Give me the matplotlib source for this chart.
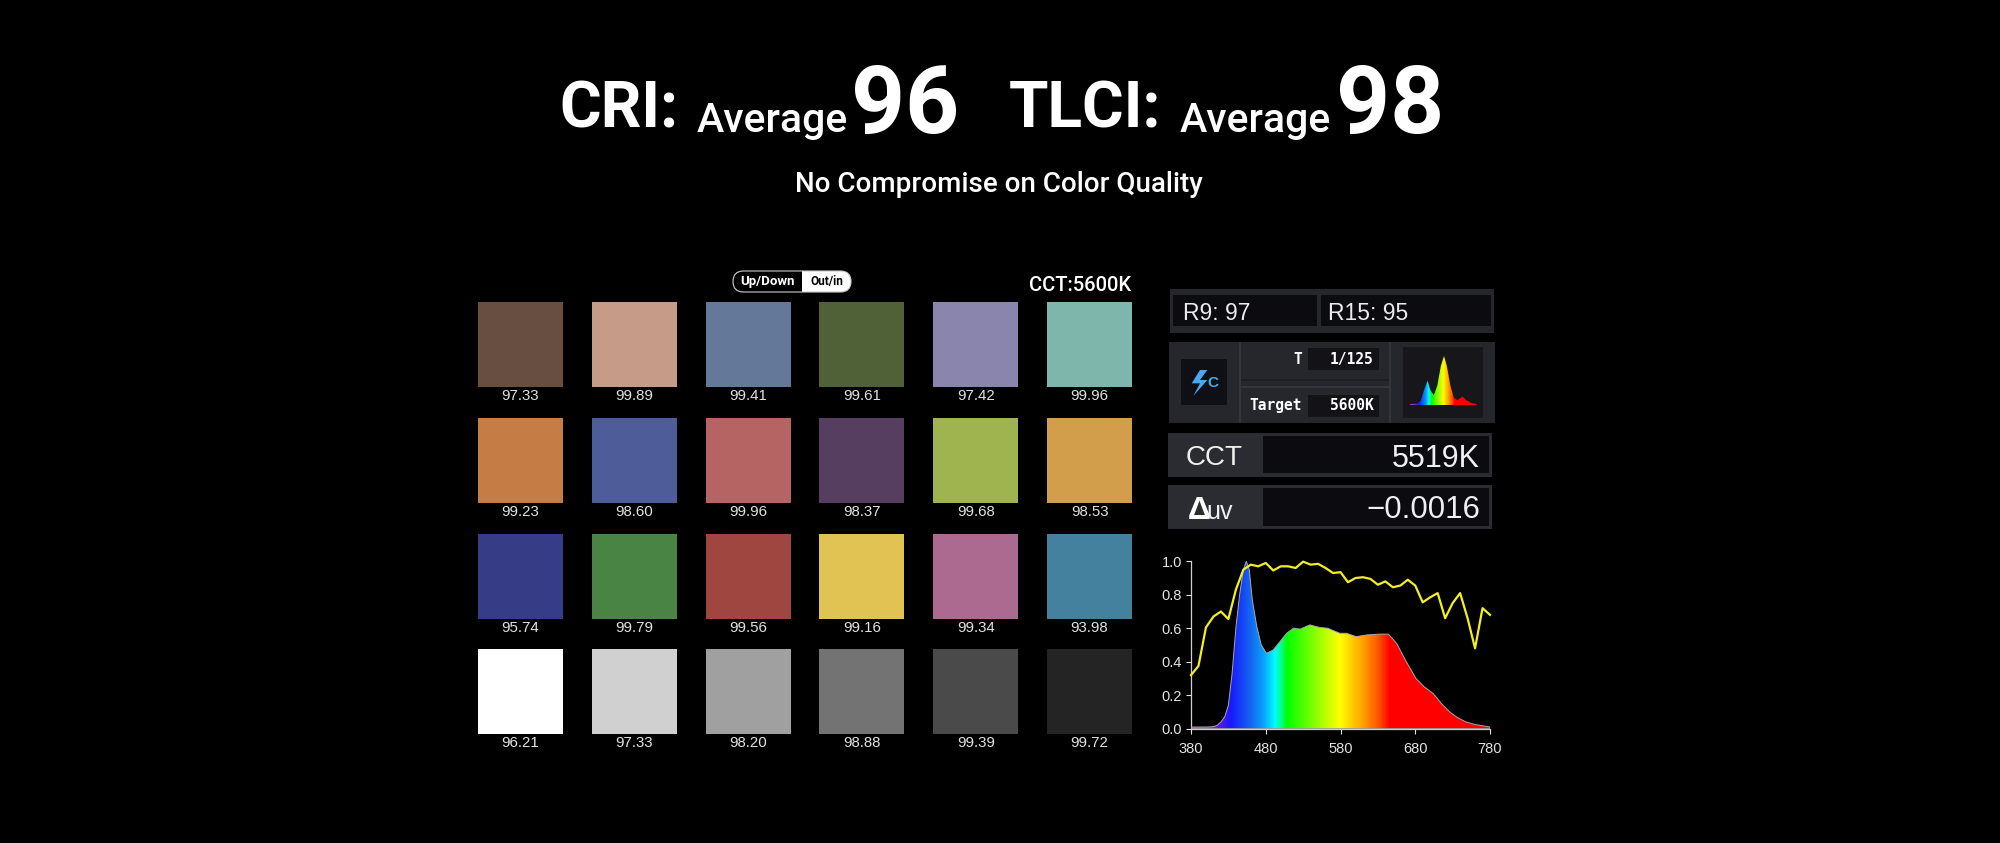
import matplotlib
matplotlib.use('Agg')
import matplotlib.pyplot as plt
import numpy as np
from matplotlib.colors import LinearSegmentedColormap
from matplotlib.patches import Rectangle, FancyBboxPatch, Polygon

W, H = 2000, 843
SANS = ['Liberation Sans', 'DejaVu Sans']
DIN = ['Roboto', 'DejaVu Sans']
MONO = 'DejaVu Sans Mono'

# colour checker
swatch_colors = [
    ['#674e40', '#c69c88', '#64799a', '#516137', '#8a85ad', '#7fb6ab'],
    ['#c57d45', '#4f5c9a', '#b66364', '#553e5f', '#9fb34f', '#d29e4c'],
    ['#363d86', '#4a8445', '#9e463f', '#e0c352', '#ad6a91', '#44819f'],
    ['#ffffff', '#d0d0d0', '#a0a0a0', '#737373', '#4a4a4a', '#242424'],
]
swatch_values = [
    ['97.33', '99.89', '99.41', '99.61', '97.42', '99.96'],
    ['99.23', '98.60', '99.96', '98.37', '99.68', '98.53'],
    ['95.74', '99.79', '99.56', '99.16', '99.34', '93.98'],
    ['96.21', '97.33', '98.20', '98.88', '99.39', '99.72'],
]

# spectrum
spd_nm = [380, 390, 400, 410, 415, 420, 425, 430, 435, 440, 445, 450, 454, 458, 462, 465,
          468, 474, 481, 490, 499, 508, 517, 526, 539, 552, 563, 579, 588, 601, 615, 632,
          644, 655, 668, 681, 692, 704, 715, 726, 737, 748, 760, 780]
spd_val = [.01, .01, .01, .012, .02, .04, .07, .14, .33, .60, .80, .95, 1.0, .95, .77, .69,
           .61, .50, .45, .47, .52, .57, .60, .595, .62, .605, .60, .57, .57, .55, .56, .565,
           .565, .51, .40, .30, .25, .21, .15, .10, .065, .04, .025, .01]
tlci_nm = list(range(380, 790, 10))
tlci_val = [.32, .375, .605, .67, .70, .655, .83, .95, .98, .97, .99, .945, .97, .97, .96,
            .998, .98, .985, .96, .93, .935, .875, .90, .905, .895, .86, .88, .845, .855,
            .89, .855, .755, .785, .81, .66, .75, .81, .66, .48, .72, .68]

# small spectrum icon
mini_x = [0, 20, 30, 40, 50, 58, 68, 78, 88, 97, 105, 115, 125, 135, 150, 160, 175, 190]
mini_y = [.02, .03, .08, .30, .50, .30, .20, .40, .80, 1.0, .80, .40, .15, .10, .17, .10, .04, .02]

fig = plt.figure(figsize=(W / 100, H / 100), dpi=100, facecolor='black')
ax = fig.add_axes([0, 0, 1, 1])
ax.set_xlim(0, W)
ax.set_ylim(H, 0)
ax.axis('off')


def sub_axes(x0, y0, x1, y1):
    return fig.add_axes([x0 / W, 1 - y1 / H, (x1 - x0) / W, (y1 - y0) / H])


def box(x0, y0, x1, y1, color):
    ax.add_patch(Rectangle((x0, y0), x1 - x0, y1 - y0, fc=color, ec='none'))


def pill(x0, x1, **kw):
    ax.add_patch(FancyBboxPatch((x0, 271), x1 - x0, 21, boxstyle='round,pad=0,rounding_size=10.5', **kw))


# headline
ax.text(559, 127, 'CRI:', color='white', fontsize=46, fontweight='bold', family=DIN)
ax.text(697, 132, 'Average', color='white', fontsize=29.5, fontweight='medium', family=DIN)
ax.text(851, 133, '96', color='white', fontsize=68, fontweight='bold', family=DIN)
ax.text(1009, 127, 'TLCI:', color='white', fontsize=46, fontweight='bold', family=DIN)
ax.text(1180, 132, 'Average', color='white', fontsize=29.5, fontweight='medium', family=DIN)
ax.text(1336, 133, '98', color='white', fontsize=68, fontweight='bold', family=DIN)
ax.text(998.5, 192, 'No Compromise on Color Quality', color='white', fontsize=20, fontweight='medium',
        ha='center', family=DIN)

# toggle
pill(733, 851, fc='white', ec='none')
pill(733, 775, fc='black', ec='none')
box(745, 271, 801.5, 292, 'black')
pill(733, 851, fc='none', ec='#cccccc', lw=0.8)
ax.text(767.5, 281.5, 'Up/Down', color='white', fontsize=9.5, fontweight='bold', family=DIN,
        ha='center', va='center')
ax.text(826.5, 281.5, 'Out/in', color='black', fontsize=8.5, fontweight='bold', family=DIN,
        ha='center', va='center')
ax.text(1131, 291, 'CCT:5600K', color='white', fontsize=14.5, fontweight='medium', family=DIN, ha='right')

# colour checker grid
for r in range(4):
    for c in range(6):
        x = 478 + c * 113.8
        y = 302 + r * 115.8
        box(x, y, x + 85, y + 85, swatch_colors[r][c])
        ax.text(x + 42.5, y + 94, swatch_values[r][c], color='#e2e2e2', fontsize=10.8, family=SANS,
                ha='center', va='center')


# right hand panels, coordinates from the 3x crop
def zx(v):
    return 1150 + v / 3


def zy(v):
    return 270 + v / 3


def zbox(x0, y0, x1, y1, color):
    box(zx(x0), zy(y0), zx(x1), zy(y1), color)


zbox(60, 57, 1032, 190, '#26272c')
zbox(70, 75, 500, 168, '#0c0c10')
zbox(512, 75, 1022, 168, '#0c0c10')
ax.text(zx(100), zy(150), 'R9: 97', color='#ececec', fontsize=16.5, family=SANS)
ax.text(zx(535), zy(150), 'R15: 95', color='#ececec', fontsize=16.5, family=SANS)

zbox(58, 215, 1035, 460, '#26272c')
zbox(266, 215, 272, 460, '#35363c')
zbox(718, 215, 724, 460, '#35363c')
zbox(272, 326, 718, 334, '#1c1d21')
zbox(272, 347, 718, 353, '#35363c')
zbox(92, 268, 232, 405, '#0f1015')
zbox(760, 232, 998, 445, '#17171b')
zbox(475, 235, 688, 300, '#121217')
zbox(475, 375, 688, 440, '#121217')
ax.text(zx(455), zy(268), 'T', color='white', fontsize=10.5, fontweight='bold', family=MONO, ha='right', va='center')
ax.text(zx(670), zy(268), '1/125', color='white', fontsize=10.5, fontweight='bold', family=MONO, ha='right', va='center')
ax.text(zx(455), zy(407), 'Target', color='white', fontsize=10.5, fontweight='bold', family=MONO, ha='right', va='center')
ax.text(zx(670), zy(407), '5600K', color='white', fontsize=10.5, fontweight='bold', family=MONO, ha='right', va='center')
bolt = [(150, 300), (125, 340), (150, 340), (130, 378), (172, 330), (150, 330), (172, 300)]
ax.add_patch(Polygon([(zx(a), zy(b)) for a, b in bolt], fc='#4aa8f0', ec='none'))
ax.text(zx(188), zy(338), 'C', color='#4aa8f0', fontsize=11, fontweight='bold', family=SANS, ha='center', va='center')

zbox(55, 488, 1025, 620, '#2b2c31')
zbox(338, 497, 1018, 610, '#0b0b10')
ax.text(zx(108), zy(585), 'CCT', color='#f0f0f0', fontsize=20, family=SANS)
ax.text(zx(988), zy(590), '5519K', color='#f0f0f0', fontsize=22, family=SANS, ha='right')

zbox(55, 645, 1025, 777, '#2b2c31')
zbox(338, 655, 1018, 768, '#0b0b10')
ax.text(zx(112), zy(748), 'Δ', color='white', fontsize=23, fontweight='bold', family=SANS)
ax.text(zx(170), zy(748), 'uv', color='#f0f0f0', fontsize=18, family=SANS)
ax.text(zx(990), zy(745), '−0.0016', color='#f0f0f0', fontsize=22.5, family=SANS, ha='right')

# spectrum gradient, used by both the plot and the icon
spec_cmap = LinearSegmentedColormap.from_list('spec', [
    (0.00, '#b040a0'), (0.05, '#9a38b0'), (0.09, '#5a18e8'), (0.13, '#1818ff'), (0.20, '#1468f0'),
    (0.245, '#08a8ff'), (0.28, '#00ffff'), (0.30, '#00ff90'), (0.32, '#00ff00'), (0.386, '#60ff00'),
    (0.498, '#ffff00'), (0.576, '#ffa000'), (0.63, '#ff5000'), (0.665, '#ff0000'), (1.00, '#ff0000'),
])


def gradient_fill(a, x, y, edge):
    poly = a.fill_between(x, 0, y, facecolor='none', edgecolor=edge, linewidth=0.7, zorder=3)
    grad = np.linspace(0, 1, 800).reshape(1, -1)
    img = a.imshow(grad, extent=[x[0], x[-1], 0, 1], aspect='auto', cmap=spec_cmap, vmin=0, vmax=1, zorder=2)
    img.set_clip_path(poly.get_paths()[0], transform=a.transData)


# main plot
sp = sub_axes(1191, 561.3, 1490, 728.7)
sp.set_facecolor('none')
gradient_fill(sp, spd_nm, spd_val, '#a8a8a8')
sp.plot(tlci_nm, tlci_val, color='#f4ef20', lw=1.6, zorder=4, clip_on=False)
sp.set_xlim(380, 780)
sp.set_ylim(0, 1)
sp.set_xticks([380, 480, 580, 680, 780])
sp.set_yticks([0, .2, .4, .6, .8, 1.0])
sp.set_yticklabels(['0.0', '0.2', '0.4', '0.6', '0.8', '1.0'])
sp.tick_params(colors='#e4e4e4', labelsize=10.5, length=3.5, width=0.8, pad=3, labelfontfamily='Liberation Sans')
sp.tick_params(axis='x', pad=6)
for side in ['top', 'right']:
    sp.spines[side].set_visible(False)
for side in ['left', 'bottom']:
    sp.spines[side].set_color('#cfcfcf')
    sp.spines[side].set_linewidth(0.9)

# icon in the panel
mini = sub_axes(zx(780), zy(258), zx(980), zy(405))
mini.axis('off')
gradient_fill(mini, mini_x, mini_y, 'none')
mini.set_xlim(0, 190)
mini.set_ylim(0, 1)

fig.savefig('out.png', dpi=100, facecolor='black')
